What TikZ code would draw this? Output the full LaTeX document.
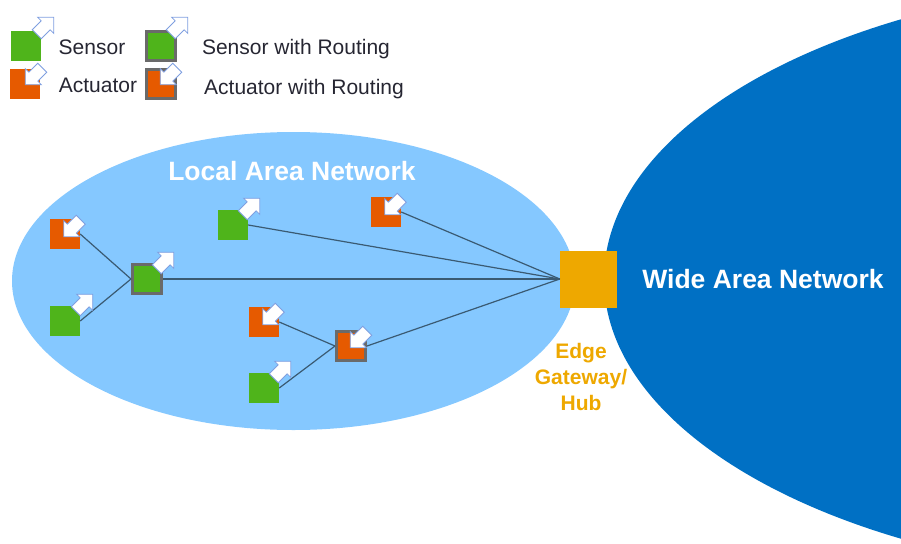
\documentclass[tikz,border=0pt]{standalone}
\usepackage{fontspec}
\setmainfont{Liberation Sans}
\usetikzlibrary{shapes.arrows}
\usetikzlibrary{positioning}

\tikzset{
    sensorbox/.style={draw=none, fill=sensorgreen, minimum size=30pt, inner sep=0pt},
    actuatorbox/.style={draw=none, fill=actuatororange, minimum size=30pt, inner sep=0pt},
    routing/.style={draw=routinggray, line width=3pt, minimum size=29pt},
    blockarrow/.style={single arrow, draw=arrowblue, fill=white, line width=0.8pt,
        inner xsep=0pt, inner ysep=6pt, minimum height=24pt, single arrow head extend=5pt},
    uparrow/.style={blockarrow, rotate=45},
    downarrow/.style={blockarrow, rotate=225},
    legendtext/.style={font=\fontsize{21}{24}\selectfont, text=legendgray},
    titletext/.style={font=\fontsize{26.5}{30}\selectfont\bfseries, text=white},
    link/.style={draw=linkgray, line width=1.2pt}
}
\definecolor{sensorgreen}{HTML}{4FB41B}
\definecolor{actuatororange}{HTML}{E65A00}
\definecolor{routinggray}{HTML}{6A6A6A}
\definecolor{arrowblue}{HTML}{7F9FE0}
\definecolor{legendgray}{HTML}{262632}
\definecolor{linkgray}{HTML}{3A5A72}
\definecolor{lanblue}{HTML}{85C8FF}
\definecolor{wanblue}{HTML}{0070C4}
\definecolor{hubyellow}{HTML}{EEA800}

\begin{document}
\begin{tikzpicture}[x=1pt, y=-1pt]
    \useasboundingbox (0,0) rectangle (901,543);

    % Wide Area Network
    \begin{scope}
        \clip (0,0) rectangle (901,543);
        \fill[wanblue] (1199,279) ellipse (595 and 300);
    \end{scope}
    \node[titletext] (wantitle) at (763,279) {Wide Area Network};

    % Local Area Network
    \fill[lanblue] (293.5,281) ellipse (281.5 and 149);
    \node[titletext] (lantitle) at (292,171) {Local Area Network};

    % Gateway
    \node[fill=hubyellow, minimum size=57pt, inner sep=0pt] (hub) at (588.5,279) {};
    \node[font=\fontsize{21}{26}\selectfont\bfseries, text=hubyellow, align=center] (hublabel) at (581,377) {Edge\\Gateway/\\Hub};

    % Legend
    \node[sensorbox] (legsensor) at (26,46) {};
    \node[uparrow] (legsensorarrow) at (43,28) {};
    \node[legendtext] (legsensortext) at (92,47) {Sensor};
    \node[actuatorbox] (legactuator) at (25,84) {};
    \node[downarrow] (legactuatorarrow) at (36,74) {};
    \node[legendtext] (legactuatortext) at (98,85) {Actuator};
    \node[sensorbox, routing] (legsensorrt) at (160.5,46) {};
    \node[uparrow] (legsensorrtarrow) at (177,28) {};
    \node[legendtext] (legsensorrttext) at (296,49) {Sensor with Routing};
    \node[actuatorbox, routing] (legactuatorrt) at (161,84) {};
    \node[downarrow] (legactuatorrtarrow) at (171,74) {};
    \node[legendtext] (legactuatorrttext) at (304,89) {Actuator with Routing};

    % Left group
    \node[actuatorbox] (act1) at (65,234) {};
    \node[sensorbox] (sen1) at (65,321) {};
    \node[sensorbox, routing] (rt1) at (147,279) {};

    % Top nodes
    \node[sensorbox] (sen2) at (233,225) {};
    \node[actuatorbox] (act2) at (386,212) {};

    % Lower group
    \node[actuatorbox] (act3) at (264,322) {};
    \node[sensorbox] (sen3) at (264,388) {};
    \node[actuatorbox, routing] (rt2) at (351,346) {};

    % Links
    \draw[link] (act1.east) -- (rt1.west);
    \draw[link] (sen1.east) -- (rt1.west);
    \draw[link] (act3.east) -- (rt2.west);
    \draw[link] (sen3.east) -- (rt2.west);
    \draw[link] (rt1.east) -- (hub.west);
    \draw[link] (rt2.east) -- (hub.west);
    \draw[link] (sen2.east) -- (hub.west);
    \draw[link] (act2.east) -- (hub.west);

    % Arrows on top
    \node[downarrow] (act1arrow) at (74.5,226) {};
    \node[uparrow] (sen1arrow) at (82,305) {};
    \node[uparrow] (rt1arrow) at (163,263) {};
    \node[uparrow] (sen2arrow) at (249,209) {};
    \node[downarrow] (act2arrow) at (395.5,204) {};
    \node[downarrow] (act3arrow) at (273.5,314) {};
    \node[uparrow] (sen3arrow) at (280,372) {};
    \node[downarrow] (rt2arrow) at (361,337) {};
\end{tikzpicture}
\end{document}
